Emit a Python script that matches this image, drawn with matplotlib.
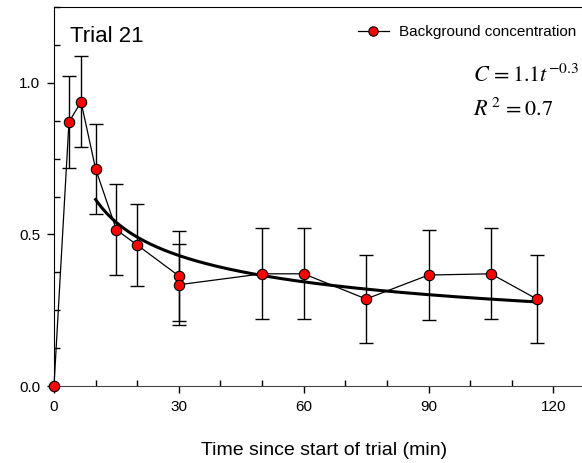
import numpy as np
import matplotlib
matplotlib.use('Agg')
import matplotlib.pyplot as plt
from matplotlib.ticker import MultipleLocator, FormatStrFormatter

plt.rcParams['font.family'] = ['Liberation Sans', 'DejaVu Sans']
plt.rcParams['mathtext.fontset'] = 'stix'

# Background concentration, trial 21
time_min = [0, 3.6, 6.5, 10, 15, 20, 30, 30, 50, 60, 75, 90, 105, 116]
conc     = [0.0, 0.871, 0.937, 0.716, 0.515, 0.465, 0.363, 0.334, 0.370, 0.370, 0.287, 0.366, 0.370, 0.287]
conc_err = [0.0, 0.152, 0.150, 0.148, 0.150, 0.135, 0.148, 0.134, 0.150, 0.150, 0.146, 0.149, 0.150, 0.146]

# Power-law fit curve C = a * t^b
fit_a = 1.3
fit_b = -0.325
fit_t = np.linspace(10, 116, 200)

W, H = 582, 463
fig = plt.figure(figsize=(W / 100, H / 100), dpi=100)
ax = fig.add_axes([54 / W, 77 / H, 541 / W, 379 / H])

ax.errorbar(time_min[1:], conc[1:], yerr=conc_err[1:], fmt='none', ecolor='black',
            elinewidth=1.0, capsize=5, capthick=1.0, zorder=2)
ax.plot(fit_t, fit_a * fit_t ** fit_b, color='black', lw=2.2, zorder=3)
ax.plot(time_min, conc, '-o', color='black', lw=0.9, markersize=7.5,
        markerfacecolor='red', markeredgecolor='black', markeredgewidth=0.8,
        label='Background concentration', clip_on=False, zorder=4)

ax.set_xlim(0, 130)
ax.set_ylim(0, 1.25)
ax.xaxis.set_major_locator(MultipleLocator(30))
ax.xaxis.set_minor_locator(MultipleLocator(10))
ax.yaxis.set_major_locator(MultipleLocator(0.5))
ax.yaxis.set_minor_locator(MultipleLocator(0.125))
ax.yaxis.set_major_formatter(FormatStrFormatter('%.1f'))
ax.tick_params(which='major', direction='out', length=5, width=1, labelsize=11, pad=5)
ax.tick_params(which='minor', direction='in', length=4, width=1)
ax.spines['bottom'].set_color('#444444')
ax.spines['right'].set_visible(False)

ax.set_xlabel('Time since start of trial (min)', fontsize=14, labelpad=20)

# panel title and fit annotation, placed in figure pixels
fig.text(70 / W, 1 - 42 / H, 'Trial 21', fontsize=16, va='baseline', ha='left')
fig.text(473 / W, 1 - 82 / H, r'$C\,=1.1t^{-0.3}$', fontsize=16,
         va='baseline', ha='left')
fig.text(473 / W, 1 - 116 / H, r'$R^{\,2}\,=0.7$', fontsize=16,
         va='baseline', ha='left')

ax.legend(loc='upper left', bbox_to_anchor=(358 / W, 1 - 25 / H),
          bbox_transform=fig.transFigure, frameon=False, fontsize=11,
          handlelength=2.0, handletextpad=0.7, borderpad=0, borderaxespad=0,
          markerscale=0.9)

fig.savefig('out.png', dpi=100)
